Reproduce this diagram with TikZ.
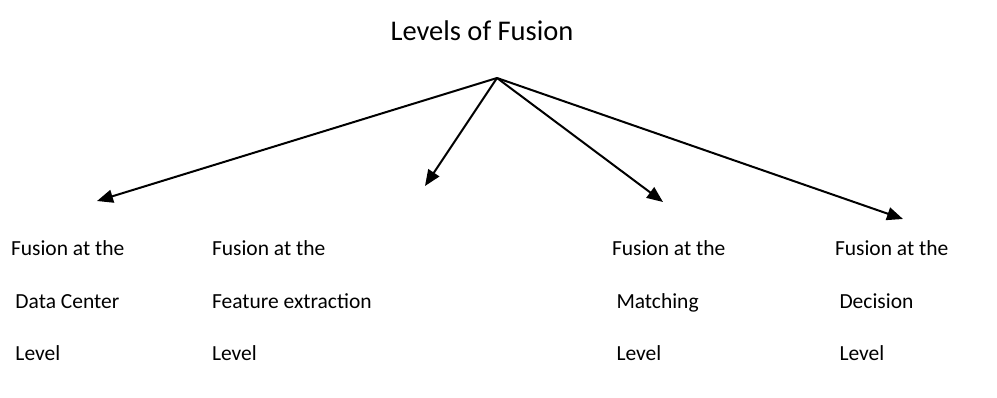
\documentclass[tikz,border=0pt]{standalone}
\usepackage{fontspec}
\setmainfont{Carlito}
\usetikzlibrary{arrows.meta}
\begin{document}
\begin{tikzpicture}[x=1pt,y=-1pt,
  lbl/.style={inner sep=0pt,outer sep=0pt,anchor=base west,font=\fontsize{21.5}{26}\selectfont},
  ttl/.style={inner sep=0pt,outer sep=0pt,anchor=base,font=\fontsize{28.5}{34}\selectfont},
  conn/.style={line width=2pt,-{Triangle[length=16pt,width=13pt]}}]
\useasboundingbox (0,0) rectangle (997,397);
% title
\node[ttl] (title) at (482,40) {Levels of Fusion};
% apex and arrow tips
\coordinate (apex) at (497,78);
\coordinate (tA) at (97,201);
\coordinate (tB) at (425,186);
\coordinate (tC) at (663,202);
\coordinate (tD) at (903,219);
\draw[conn] (apex) -- (tA);
\draw[conn] (apex) -- (tB);
\draw[conn] (apex) -- (tC);
\draw[conn] (apex) -- (tD);
% column 1
\node[lbl] (a1) at (11,255) {Fusion at the};
\node[lbl] (a2) at (15.5,308) {Data Center};
\node[lbl] (a3) at (15.5,360) {Level};
% column 2
\node[lbl] (b1) at (212,255) {Fusion at the};
\node[lbl] (b2) at (212,308) {Feature extraction};
\node[lbl] (b3) at (212,360) {Level};
% column 3
\node[lbl] (c1) at (612,255) {Fusion at the};
\node[lbl] (c2) at (616.5,308) {Matching};
\node[lbl] (c3) at (616.5,360) {Level};
% column 4
\node[lbl] (d1) at (835,255) {Fusion at the};
\node[lbl] (d2) at (839.5,308) {Decision};
\node[lbl] (d3) at (839.5,360) {Level};
\end{tikzpicture}
\end{document}
